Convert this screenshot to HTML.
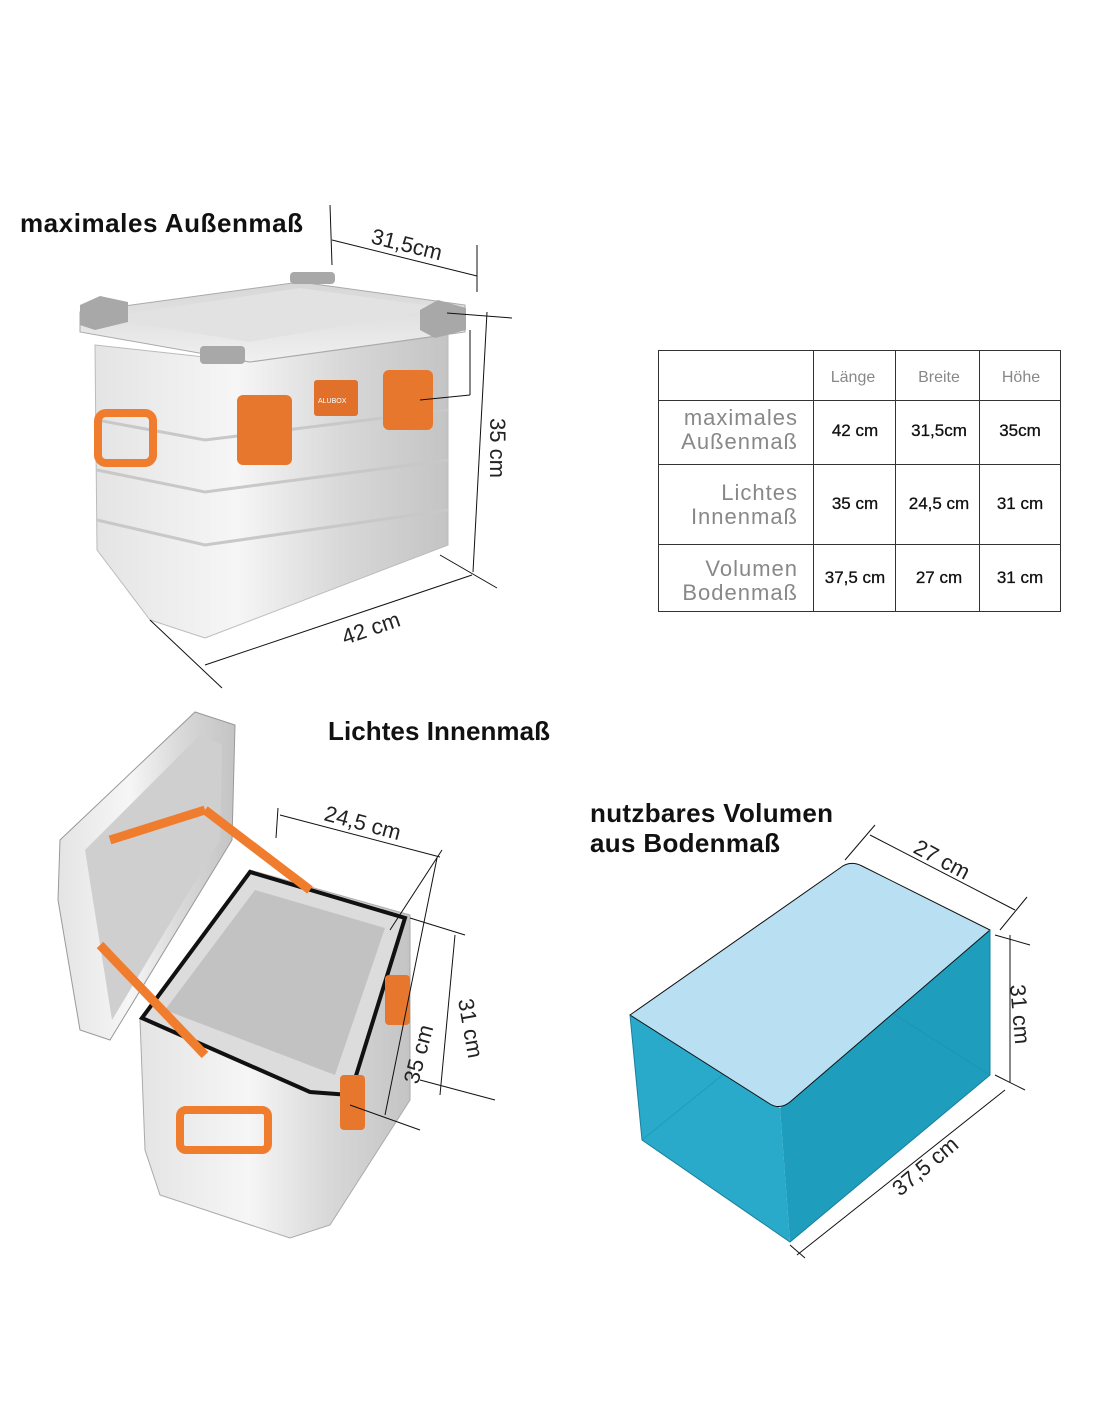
<!DOCTYPE html>
<html><head><meta charset="utf-8"><style>
body{margin:0;background:#fff;width:1100px;height:1422px;overflow:hidden;font-family:"Liberation Sans",sans-serif}
svg{position:absolute;left:0;top:0}
</style></head><body>
<svg width="1100" height="1422" viewBox="0 0 1100 1422" xmlns="http://www.w3.org/2000/svg">
<defs>
<linearGradient id="al" x1="0" y1="0" x2="1" y2="0">
<stop offset="0" stop-color="#e4e4e4"/><stop offset="0.4" stop-color="#f6f6f6"/><stop offset="0.7" stop-color="#d8d8d8"/><stop offset="1" stop-color="#c4c4c4"/></linearGradient>
<linearGradient id="al2" x1="0" y1="0" x2="0" y2="1">
<stop offset="0" stop-color="#d6d6d6"/><stop offset="1" stop-color="#f0f0f0"/></linearGradient>
</defs>
<g font-weight="bold" font-size="26" fill="#111">
<text x="20" y="232" textLength="283">maximales Außenmaß</text>
<text x="328" y="740" textLength="222">Lichtes Innenmaß</text>
<text x="590" y="822" textLength="243">nutzbares Volumen</text>
<text x="590" y="852" textLength="190">aus Bodenmaß</text>
</g>

<path d="M95,345 L250,362 L448,335 L448,545 L205,638 L150,620 L97,550 Z" fill="url(#al)" stroke="#bbb"/>
<path d="M80,312 L300,282 L465,305 L465,332 L250,362 L80,332 Z" fill="url(#al2)" stroke="#aaa"/>
<path d="M100,318 L300,288 L445,308 L250,342 Z" fill="#e2e2e2"/>
<g stroke="#c8c8c8" stroke-width="3" fill="none">
<path d="M97,420 L205,440 L448,410"/><path d="M97,470 L205,492 L448,460"/><path d="M97,520 L205,545 L448,510"/>
</g>
<path d="M80,305 L100,296 L128,302 L128,322 L95,330 L80,325 Z" fill="#a8a8a8"/>
<path d="M420,310 L438,300 L466,308 L466,330 L435,338 L420,330 Z" fill="#a8a8a8"/>
<rect x="290" y="272" width="45" height="12" rx="4" fill="#a8a8a8"/>
<rect x="200" y="346" width="45" height="18" rx="4" fill="#a8a8a8"/>
<rect x="237" y="395" width="55" height="70" rx="6" fill="#e8772e"/>
<rect x="383" y="370" width="50" height="60" rx="6" fill="#e8772e"/>
<rect x="314" y="380" width="44" height="36" rx="3" fill="#e0702a"/>
<text x="318" y="403" font-size="7" fill="#fff">ALUBOX</text>
<rect x="98" y="413" width="55" height="50" rx="8" fill="none" stroke="#f07c2e" stroke-width="8"/>

<g stroke="#111" stroke-width="1" fill="none">
<line x1="330" y1="205" x2="332" y2="265"/><line x1="477" y1="245" x2="477" y2="292"/>
<line x1="332" y1="240" x2="477" y2="276"/>
<line x1="447" y1="313" x2="512" y2="318"/><line x1="487" y1="312" x2="473" y2="572"/>
<line x1="440" y1="555" x2="497" y2="588"/><line x1="150" y1="620" x2="222" y2="688"/>
<line x1="205" y1="665" x2="472" y2="575"/>
<line x1="420" y1="400" x2="470" y2="395"/><line x1="470" y1="395" x2="470" y2="330"/>
</g>
<g font-size="22" fill="#222">
<text transform="translate(370,243) rotate(14)">31,5cm</text>
<text transform="translate(490,418) rotate(90)">35 cm</text>
<text transform="translate(345,645) rotate(-19)">42 cm</text>
</g>

<path d="M60,840 L195,712 L235,725 L232,840 L110,1040 L80,1030 L58,900 Z" fill="url(#al)" stroke="#999"/>
<path d="M85,850 L200,735 L222,745 L220,840 L112,1020 Z" fill="#cfcfcf"/>
<path d="M140,1020 L250,870 L410,915 L410,1100 L330,1225 L290,1238 L160,1195 L145,1150 Z" fill="url(#al)" stroke="#aaa"/>
<path d="M142,1018 L250,872 L405,918 L350,1095 L310,1092 Z" fill="#dcdcdc" stroke="#111" stroke-width="4"/>
<path d="M165,1010 L255,890 L385,928 L335,1075 Z" fill="#c2c2c2"/>
<g stroke="#f07c2e" stroke-width="9"><line x1="100" y1="945" x2="205" y2="1055"/><line x1="110" y1="840" x2="205" y2="810"/><line x1="205" y1="810" x2="310" y2="890"/></g>
<rect x="180" y="1110" width="88" height="40" rx="6" fill="none" stroke="#f07c2e" stroke-width="8"/>
<rect x="385" y="975" width="25" height="50" rx="4" fill="#e8772e"/>
<rect x="340" y="1075" width="25" height="55" rx="4" fill="#e8772e"/>
<g stroke="#111" stroke-width="1" fill="none">
<line x1="278" y1="808" x2="276" y2="838"/><line x1="280" y1="815" x2="440" y2="857"/>
<line x1="442" y1="850" x2="390" y2="930"/>
<line x1="437" y1="858" x2="385" y2="1115"/>
<line x1="410" y1="918" x2="465" y2="935"/><line x1="455" y1="935" x2="440" y2="1095"/>
<line x1="420" y1="1080" x2="495" y2="1100"/><line x1="350" y1="1105" x2="420" y2="1130"/>
</g>
<g font-size="22" fill="#222">
<text transform="translate(323,820) rotate(15)">24,5 cm</text>
<text transform="translate(458,1000) rotate(80)">31 cm</text>
<text transform="translate(418,1085) rotate(-75)">35 cm</text>
</g>

<path d="M630,1015 L780,1108 L790,1242 L642,1140 Z" fill="#2aaacb"/>
<path d="M780,1108 L990,930 L990,1075 L790,1242 Z" fill="#1f9dbd"/>
<path d="M642,1140 L840,980 L990,1075" fill="none" stroke="#1a8fb0" stroke-width="1" opacity="0.6"/>
<path d="M630,1015 L840,868 Q850,860 862,866 L990,930 L790,1102 Q780,1110 770,1104 Z" fill="#b8dff2" stroke="#111" stroke-width="1"/>
<path d="M630,1015 L642,1140 L790,1242 L990,1075 L990,930" fill="none" stroke="#1a7f9a" stroke-width="1"/>
<g stroke="#111" stroke-width="1" fill="none">
<line x1="845" y1="860" x2="875" y2="825"/><line x1="1000" y1="930" x2="1027" y2="897"/>
<line x1="870" y1="835" x2="1015" y2="910"/>
<line x1="995" y1="935" x2="1030" y2="945"/><line x1="995" y1="1075" x2="1025" y2="1090"/>
<line x1="1010" y1="935" x2="1010" y2="1082"/>
<line x1="790" y1="1245" x2="805" y2="1258"/><line x1="797" y1="1255" x2="1005" y2="1090"/>
</g>
<g font-size="22" fill="#222">
<text transform="translate(912,852) rotate(28)">27 cm</text>
<text transform="translate(1010,985) rotate(85)">31 cm</text>
<text transform="translate(900,1197) rotate(-40)">37,5 cm</text>
</g>

<g stroke="#333" stroke-width="1" fill="none">
<rect x="658.5" y="350.5" width="402" height="261"/>
<line x1="813.5" y1="350" x2="813.5" y2="611"/><line x1="895.5" y1="350" x2="895.5" y2="611"/><line x1="979.5" y1="350" x2="979.5" y2="611"/>
<line x1="658" y1="400.5" x2="1060" y2="400.5"/><line x1="658" y1="464.5" x2="1060" y2="464.5"/><line x1="658" y1="544.5" x2="1060" y2="544.5"/>
</g>
<g font-size="16" fill="#888" text-anchor="middle">
<text x="853" y="382">Länge</text><text x="939" y="382">Breite</text><text x="1021" y="382">Höhe</text>
</g>
<g font-size="22" fill="#888" text-anchor="end" letter-spacing="1">
<text x="798" y="425">maximales</text><text x="798" y="449">Außenmaß</text>
<text x="798" y="500">Lichtes</text><text x="798" y="524">Innenmaß</text>
<text x="798" y="576">Volumen</text><text x="798" y="600">Bodenmaß</text>
</g>
<g font-size="17" fill="#111" text-anchor="middle" stroke="#111" stroke-width="0.3">
<text x="855" y="436">42 cm</text><text x="939" y="436">31,5cm</text><text x="1020" y="436">35cm</text>
<text x="855" y="509">35 cm</text><text x="939" y="509">24,5 cm</text><text x="1020" y="509">31 cm</text>
<text x="855" y="583">37,5 cm</text><text x="939" y="583">27 cm</text><text x="1020" y="583">31 cm</text>
</g>
</svg>
</body></html>
